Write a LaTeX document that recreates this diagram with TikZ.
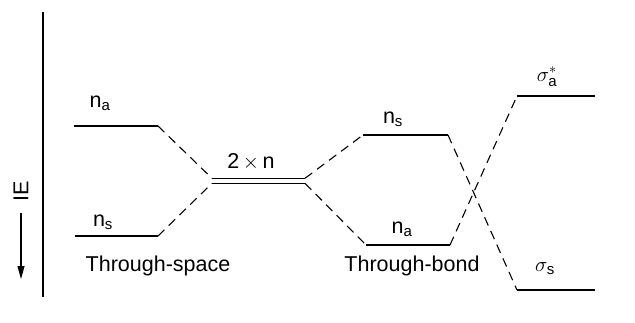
\documentclass[tikz,border=0pt]{standalone}
\usepackage{amsmath}
\usepackage{fontspec}
\setmainfont{Liberation Sans}
\setsansfont{Liberation Sans}
\usetikzlibrary{arrows.meta}

\tikzset{
  level/.style={line width=1.2pt},
  link/.style={line width=1.1pt,dash pattern=on 9pt off 6pt},
  lbl/.style={inner sep=0pt,font=\fontsize{21.5}{25}\selectfont},
}

\begin{document}
\begin{tikzpicture}[x=1pt,y=-1pt]
  \useasboundingbox (0,0) rectangle (635,322);
  % energy axis
  \coordinate (axtop) at (43,12);
  \coordinate (axbot) at (43,297);
  \draw[level] (axtop) -- (axbot);
  \node[lbl,rotate=90] (ie) at (21,191) {IE};
  \coordinate (ietop) at (21,213);
  \coordinate (iebot) at (21,279);
  \draw[level,-{Triangle[length=13pt,width=7pt]}] (ietop) -- (iebot);
  % through-space levels
  \coordinate (lna1) at (74,126);   \coordinate (lna2) at (158,126);
  \coordinate (lns1) at (75,236);   \coordinate (lns2) at (158,236);
  \draw[level] (lna1) -- (lna2);
  \draw[level] (lns1) -- (lns2);
  \node[lbl] (lnalbl) at (100,103) {n\textsubscript{a}};
  \node[lbl] (lnslbl) at (103,222) {n\textsubscript{s}};
  % degenerate pair
  \coordinate (dup1) at (212,178.3); \coordinate (dup2) at (305,178.3);
  \coordinate (dlo1) at (212,183.3); \coordinate (dlo2) at (305,183.3);
  \draw[line width=1pt] (dup1) -- (dup2);
  \draw[line width=1pt] (dlo1) -- (dlo2);
  \node[lbl] (twon) at (251,162) {2\,$\times$\,n};
  \draw[link] (lna2) -- (dup1);
  \draw[link] (lns2) -- (dlo1);
  % through-bond levels
  \coordinate (rns1) at (363,135);  \coordinate (rns2) at (448,135);
  \coordinate (rna1) at (366,245);  \coordinate (rna2) at (450,245);
  \draw[level] (rns1) -- (rns2);
  \draw[level] (rna1) -- (rna2);
  \node[lbl] (rnslbl) at (393,119) {n\textsubscript{s}};
  \node[lbl] (rnalbl) at (402,229) {n\textsubscript{a}};
  \draw[link] (dup2) -- (rns1);
  \draw[link] (dlo2) -- (rna1);
  % sigma levels
  \coordinate (sa1) at (517,96);    \coordinate (sa2) at (595,96);
  \coordinate (ss1) at (517,290);   \coordinate (ss2) at (595,290);
  \draw[level] (sa1) -- (sa2);
  \draw[level] (ss1) -- (ss2);
  \node[lbl] (salbl) at (547,77) {$\sigma^{*}_{\text{a}}$};
  \node[lbl] (sslbl) at (545,269) {$\sigma_{\text{s}}$};
  \draw[link] (rns2) -- (ss1);
  \draw[link] (rna2) -- (sa1);
  % captions
  \node[lbl] (tspace) at (158,266) {Through-space};
  \node[lbl] (tbond) at (412,266) {Through-bond};
\end{tikzpicture}
\end{document}
